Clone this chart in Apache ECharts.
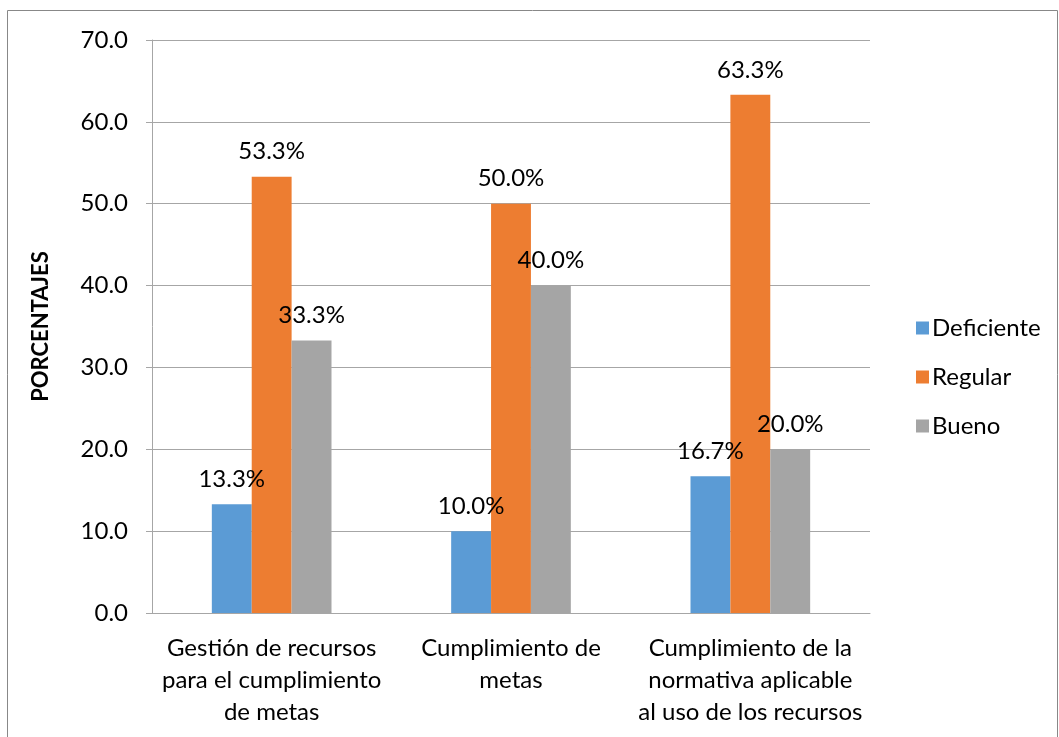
<!DOCTYPE html>
<html>
<head>
<meta charset="utf-8">
<script src="https://cdn.jsdelivr.net/npm/echarts@6/dist/echarts.min.js"></script>
<style>
html,body{margin:0;padding:0;background:#fff;}
#c{width:1059px;height:737px;}
</style>
</head>
<body>
<div id="c"></div>
<script>
const categories = [
  'Gestión de recursos\npara el cumplimiento\nde metas',
  'Cumplimiento de\nmetas',
  'Cumplimiento de la\nnormativa aplicable\nal uso de los recursos'
];
const deficiente = [13.3, 10.0, 16.7];
const regular = [53.3, 50.0, 63.3];
const bueno = [33.3, 40.0, 20.0];
const seriesNames = ['Deficiente', 'Regular', 'Bueno'];
const colors = ['#5B9BD5', '#ED7D31', '#A5A5A5'];
const yTicks = { min: 0, max: 70, interval: 10 };

const FONT = 'Lato, "Open Sans", sans-serif';
const chart = echarts.init(document.getElementById('c'));
const mkSeries = (name, data, color) => ({
  name: name,
  type: 'bar',
  data: data,
  barGap: '0%',
  barCategoryGap: '50%',
  itemStyle: { color: color },
  label: {
    show: true,
    position: 'top',
    distance: 13,
    formatter: p => p.value.toFixed(1) + '%',
    color: '#000',
    fontSize: 24,
    fontFamily: FONT
  }
});
chart.setOption({
  animation: false,
  textStyle: { fontFamily: FONT },
  graphic: [{
    type: 'rect',
    shape: { x: 7.5, y: 10.5, width: 1050, height: 740 },
    style: { fill: 'none', stroke: '#888', lineWidth: 1 },
    silent: true
  }],
  grid: { left: 152, right: 189, top: 40, bottom: 124 },
  legend: {
    orient: 'vertical',
    left: 911,
    top: 311,
    itemWidth: 13,
    itemHeight: 13,
    itemGap: 25,
    icon: 'rect',
    data: seriesNames,
    textStyle: { fontSize: 24, color: '#000', fontFamily: FONT, padding: [0, 0, 0, -2] }
  },
  xAxis: {
    type: 'category',
    data: categories,
    axisLine: { lineStyle: { color: '#A6A6A6', width: 1 } },
    axisTick: { show: false },
    axisLabel: { color: '#000', fontSize: 24, lineHeight: 32, margin: 19, fontFamily: FONT, interval: 0 }
  },
  yAxis: {
    type: 'value',
    min: yTicks.min, max: yTicks.max, interval: yTicks.interval,
    name: 'PORCENTAJES',
    nameLocation: 'middle',
    nameGap: 100,
    nameTextStyle: { fontSize: 22, fontWeight: 'bold', color: '#000', fontFamily: FONT },
    axisLine: { show: true, lineStyle: { color: '#A6A6A6' } },
    axisTick: { show: true, length: 6, lineStyle: { color: '#A6A6A6' } },
    splitLine: { lineStyle: { color: '#A6A6A6' } },
    axisLabel: { color: '#000', fontSize: 24, margin: 24, fontFamily: FONT, formatter: v => v.toFixed(1) }
  },
  series: [
    mkSeries(seriesNames[0], deficiente, colors[0]),
    mkSeries(seriesNames[1], regular, colors[1]),
    mkSeries(seriesNames[2], bueno, colors[2])
  ]
});
</script>
</body>
</html>
